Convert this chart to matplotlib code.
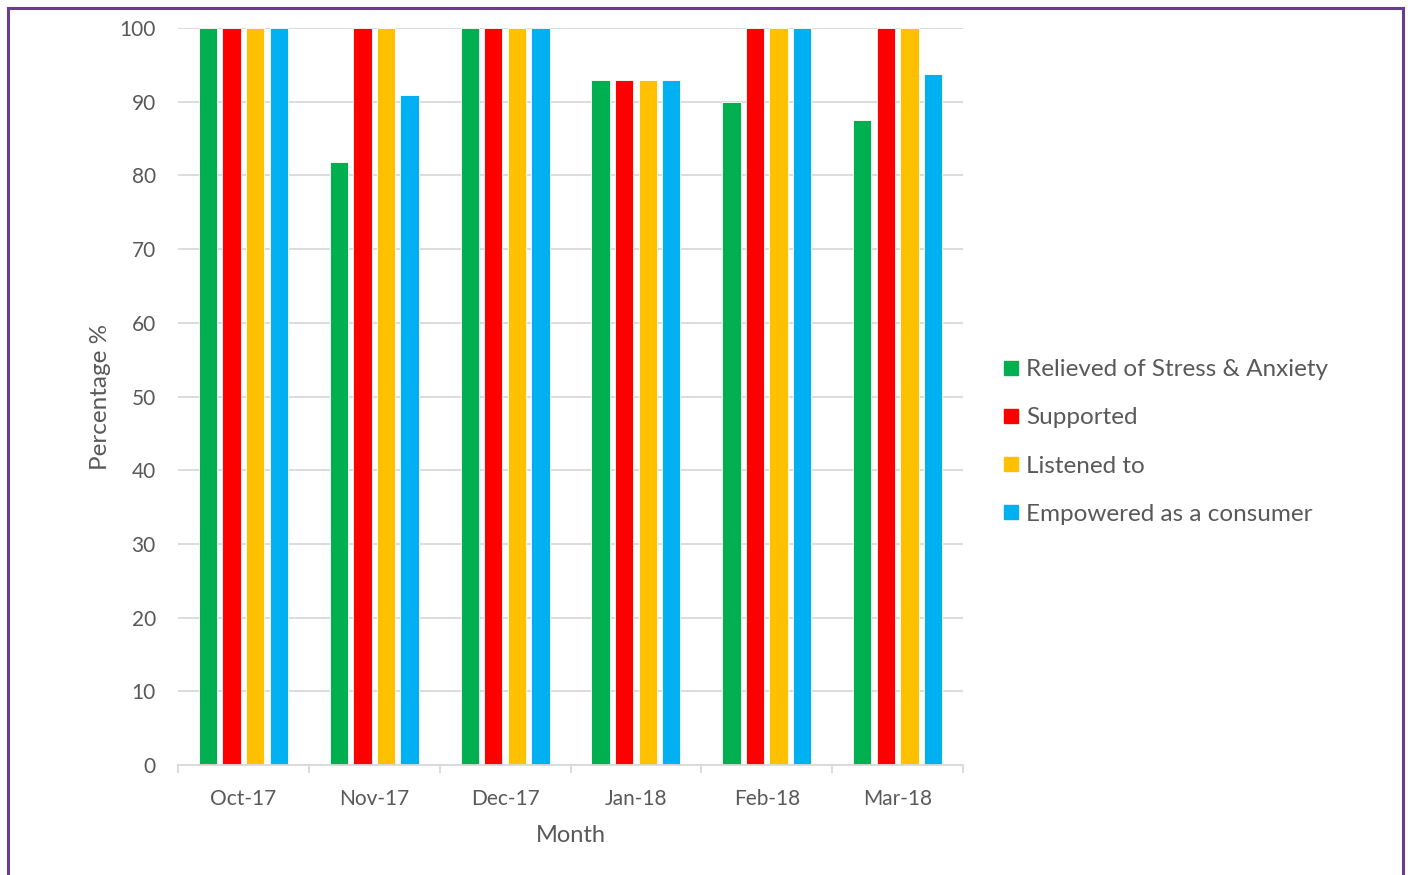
import matplotlib
matplotlib.use("Agg")
import matplotlib.pyplot as plt
import numpy as np
from matplotlib.lines import Line2D

months = ["Oct-17", "Nov-17", "Dec-17", "Jan-18", "Feb-18", "Mar-18"]
relieved = [100, 81.8, 100, 92.9, 90, 87.5]
supported = [100, 100, 100, 92.9, 100, 100]
listened = [100, 100, 100, 92.9, 100, 100]
empowered = [100, 90.9, 100, 92.9, 100, 93.75]

series_names = ["Relieved of Stress & Anxiety", "Supported", "Listened to",
                "Empowered as a consumer"]
series_colors = ["#00B050", "#FF0000", "#FFC000", "#00B0F0"]
series_values = [relieved, supported, listened, empowered]

plt.rcParams['font.family'] = ['Lato', 'DejaVu Sans']
text_color = "#595959"
grid_color = "#D9D9D9"

fig = plt.figure(figsize=(14.08, 8.75), dpi=100)
ax = fig.add_axes([178 / 1408, 1 - 765 / 875, (963 - 178) / 1408, (765 - 28) / 875])

x = np.arange(len(months))
step = 0.18
width = 0.14
for i, (name, vals, col) in enumerate(zip(series_names, series_values, series_colors)):
    ax.bar(x + (i - 1.5) * step, vals, width=width, color=col, label=name,
           edgecolor="white", linewidth=0.6, zorder=3)

ax.set_xlim(-0.5, len(months) - 0.5)
ax.set_ylim(0, 100)
ax.set_yticks(np.arange(0, 101, 10))
ax.yaxis.grid(True, color=grid_color, linewidth=1.3, zorder=0)
ax.set_axisbelow(True)

for s in ["top", "right", "left"]:
    ax.spines[s].set_visible(False)
ax.spines["bottom"].set_color(grid_color)
ax.spines["bottom"].set_linewidth(1.3)
ax.spines["bottom"].set_zorder(4)

ax.set_xticks(x)
ax.set_xticklabels(months)
ax.set_xticks(np.arange(-0.5, len(months), 1.0), minor=True)
ax.tick_params(axis="x", which="major", length=0, pad=17, labelsize=15, labelcolor=text_color)
ax.tick_params(axis="x", which="minor", length=6, width=1.3, color=grid_color)
ax.tick_params(axis="y", length=0, pad=16, labelsize=15, labelcolor=text_color)

ax.set_xlabel("Month", fontsize=17, color=text_color, labelpad=12)
ax.set_ylabel("Percentage %", fontsize=17.5, color=text_color, labelpad=6)

handles = [Line2D([0], [0], marker="s", linestyle="none", markersize=10,
                  markerfacecolor=c, markeredgecolor=c) for c in series_colors]
fig.legend(handles, series_names, loc="center left",
           bbox_to_anchor=(975 / 1408, 1 - 442 / 875), frameon=False,
           fontsize=17.5, labelcolor=text_color, handletextpad=0.0,
           labelspacing=1.12, handlelength=1.2)

# Purple frame around the chart
frame_color = "#6A3C94"
fig.add_artist(Line2D([8 / 1408, 8 / 1408], [0, 1 - 8 / 875], color=frame_color,
                      linewidth=2.2, transform=fig.transFigure))
fig.add_artist(Line2D([8 / 1408, 1403 / 1408], [1 - 8 / 875, 1 - 8 / 875],
                      color=frame_color, linewidth=2.2, transform=fig.transFigure))
fig.add_artist(Line2D([1403 / 1408, 1403 / 1408], [0, 1 - 8 / 875], color=frame_color,
                      linewidth=2.2, transform=fig.transFigure))

fig.savefig("out.png", dpi=100, facecolor="white")
